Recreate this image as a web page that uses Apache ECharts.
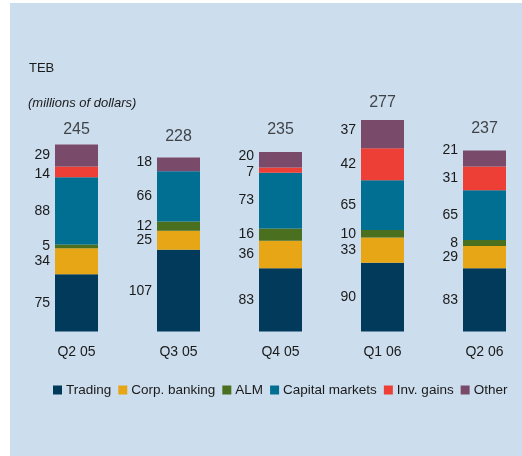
<!DOCTYPE html>
<html>
<head>
<meta charset="utf-8">
<script src="https://cdn.jsdelivr.net/npm/echarts@6/dist/echarts.min.js"></script>
<style>
  html, body { margin: 0; padding: 0; background: #fff; }
  #main { width: 522px; height: 456px; }
</style>
</head>
<body>
<div id="main"></div>
<script>
const quarters = ['Q2 05', 'Q3 05', 'Q4 05', 'Q1 06', 'Q2 06'];
const trading = [75, 107, 83, 90, 83];
const corpBanking = [34, 25, 36, 33, 29];
const alm = [5, 12, 16, 10, 8];
const capitalMarkets = [88, 66, 73, 65, 65];
const invGains = [14, null, 7, 42, 31];
const other = [29, 18, 20, 37, 21];
const totals = [245, 228, 235, 277, 237];

// small vertical nudges of some labels, as in the original layout
const totalShift = [3, -3, -5, 1, -4];
const otherShift = [0, -2, -4, -4, -8];
const invShift = [2, 0, 2, 0, 0];

const font = '"Liberation Sans", Arial, sans-serif';

function seg(name, data, color, shift) {
    return {
        name: name,
        type: 'bar',
        stack: 'teb',
        data: shift ? data.map((v, i) => ({value: v, label: {offset: [0, shift[i]]}})) : data,
        barWidth: 43,
        itemStyle: {color: color},
        label: {
            show: true,
            position: 'left',
            distance: 5,
            color: '#1a1a1a',
            fontFamily: font,
            fontSize: 14
        }
    };
}

const chart = echarts.init(document.getElementById('main'));
chart.setOption({
    backgroundColor: '#fff',
    animation: false,
    graphic: [
        {type: 'rect', z: -10, shape: {x: 10, y: 3, width: 512, height: 453}, style: {fill: '#ccdded'}},
        {type: 'text', left: 29, top: 62, style: {text: 'TEB', font: '13px ' + font, fill: '#1a1a1a'}},
        {type: 'text', left: 28, top: 97, style: {text: '(millions of dollars)', font: 'italic 13px ' + font, fill: '#1a1a1a'}}
    ],
    legend: {
        left: 53,
        top: 383,
        padding: 0,
        width: 470,
        itemWidth: 9,
        itemHeight: 9,
        itemGap: 7,
        icon: 'rect',
        textStyle: {fontFamily: font, fontSize: 13.5, color: '#1a1a1a', padding: [0, 0, 0, -1]},
        data: ['Trading', 'Corp. banking', 'ALM', 'Capital markets', 'Inv. gains', 'Other']
    },
    grid: {left: 25.5, top: 102.5, width: 510, height: 229, outerBoundsMode: 'none'},
    xAxis: {
        type: 'category',
        data: quarters,
        axisLine: {show: false},
        axisTick: {show: false},
        axisLabel: {color: '#1a1a1a', fontFamily: font, fontSize: 14, margin: 14}
    },
    yAxis: {
        type: 'value',
        min: 0,
        max: 300,
        show: false
    },
    series: [
        seg('Trading', trading, '#013a5b'),
        seg('Corp. banking', corpBanking, '#e6a616'),
        seg('ALM', alm, '#4a6f1f'),
        seg('Capital markets', capitalMarkets, '#006f91'),
        seg('Inv. gains', invGains, '#ee3f36', invShift),
        seg('Other', other, '#7a4a6b', otherShift),
        {
            name: 'Total',
            type: 'scatter',
            data: totals.map((v, i) => ({value: v, label: {offset: [0, totalShift[i]]}})),
            symbolSize: 0,
            silent: true,
            label: {
                show: true,
                position: 'top',
                distance: 10,
                color: '#1a1a1a',
                fontFamily: font,
                fontSize: 16
            }
        }
    ]
});
</script>
</body>
</html>
